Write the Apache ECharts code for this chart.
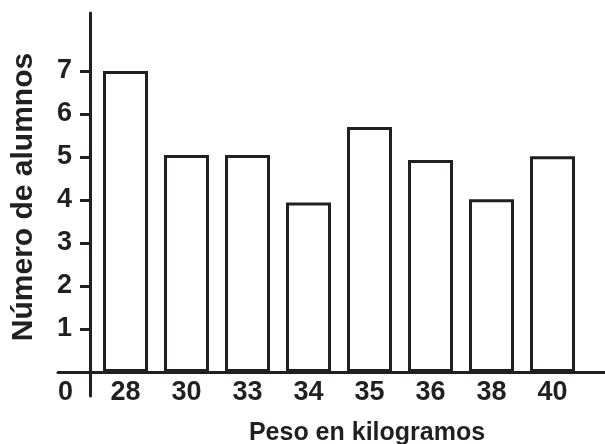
<!DOCTYPE html>
<html>
<head>
<meta charset="utf-8">
<script src="https://cdn.jsdelivr.net/npm/echarts@6/dist/echarts.min.js"></script>
<style>
html,body{margin:0;padding:0;background:#fff;}
#chart{width:605px;height:444px;}
</style>
</head>
<body>
<div id="chart"></div>
<script>
const categories = ['28', '30', '33', '34', '35', '36', '38', '40'];
const alumnos = [7, 5.05, 5.05, 3.94, 5.7, 4.93, 4.02, 5.02];
const yTickValues = [1, 2, 3, 4, 5, 6, 7];
const originLabel = ['0'];
const yTitle = 'Número de alumnos';
const xTitle = 'Peso en kilogramos';

const INK = '#231f20';
const FONT = '"Liberation Sans", Arial, sans-serif';
const LABEL = {color: INK, fontFamily: FONT, fontWeight: 'bold', fontSize: 27};

const chart = echarts.init(document.getElementById('chart'), null, {renderer: 'canvas'});
chart.setOption({
  animation: false,
  backgroundColor: '#fff',
  grid: [
    {left: 95, width: 488, top: 13, bottom: 72, containLabel: false},
    {left: 58, right: 0, top: 13, bottom: 72, containLabel: false},
    {left: 90, width: 10, top: 13, bottom: 48, containLabel: false}
  ],
  xAxis: [
    {
      type: 'category', gridIndex: 0, data: categories,
      axisLine: {show: false},
      axisTick: {show: false},
      axisLabel: Object.assign({margin: 7}, LABEL)
    },
    {
      type: 'value', gridIndex: 1, min: 0, max: 1,
      axisLine: {show: true, lineStyle: {color: INK, width: 3}},
      axisTick: {show: false},
      splitLine: {show: false},
      axisLabel: Object.assign({customValues: [0], formatter: () => originLabel[0], align: 'left', margin: 7}, LABEL)
    },
    {type: 'value', gridIndex: 2, show: false, min: 0, max: 1}
  ],
  yAxis: [
    {
      type: 'value', gridIndex: 0, min: 0, max: 8.35, offset: 5,
      axisLine: {show: false},
      axisTick: {show: true, customValues: yTickValues, length: 10, lineStyle: {color: INK, width: 3}},
      axisLabel: Object.assign({customValues: yTickValues, margin: 18}, LABEL),
      splitLine: {show: false}
    },
    {type: 'value', gridIndex: 1, show: false, min: 0, max: 1},
    {
      type: 'value', gridIndex: 2, min: 0, max: 1,
      axisLine: {show: true, onZero: false, lineStyle: {color: INK, width: 3}},
      axisTick: {show: false}, axisLabel: {show: false}, splitLine: {show: false}
    }
  ],
  series: [{
    type: 'bar', xAxisIndex: 0, yAxisIndex: 0,
    data: alumnos, barWidth: 45,
    itemStyle: {color: '#fff', borderColor: INK, borderWidth: 3}
  }],
  graphic: [
    {
      type: 'text', x: 24, y: 197, rotation: Math.PI / 2,
      style: {text: yTitle, font: 'bold 30px ' + FONT, fill: INK, textAlign: 'center', textVerticalAlign: 'middle'}
    },
    {
      type: 'text', x: 367, y: 433,
      style: {text: xTitle, font: 'bold 25px ' + FONT, fill: INK, textAlign: 'center', textVerticalAlign: 'middle'}
    }
  ]
});
</script>
</body>
</html>
